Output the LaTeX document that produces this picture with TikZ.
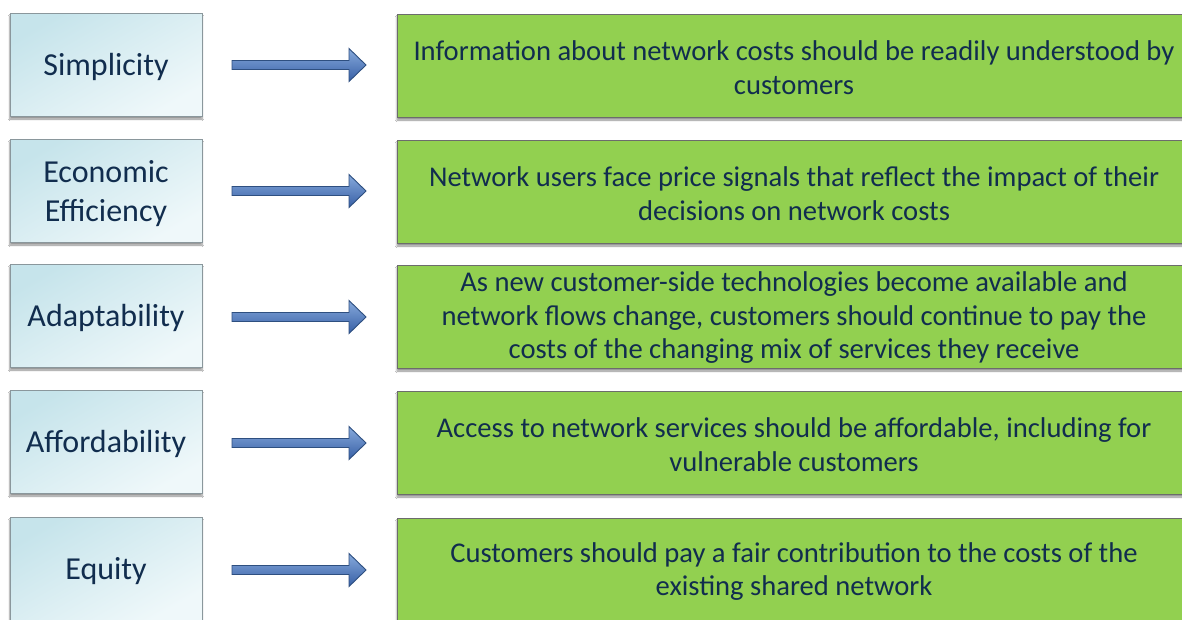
\documentclass[tikz,border=0pt]{standalone}
\usepackage{fontspec}
\setmainfont{Carlito}
\usetikzlibrary{shadows.blur}
\definecolor{txt}{HTML}{112D4E}
\definecolor{greenfill}{HTML}{92D050}
\definecolor{boxedge}{HTML}{8A979C}
\definecolor{arrowedge}{HTML}{2E4F80}
\definecolor{bluedark}{HTML}{C6E4EB}
\definecolor{bluelight}{HTML}{EFF8FA}
\tikzset{
  leftbox/.style={draw=boxedge, line width=1pt, minimum width=192pt, minimum height=103pt,
    top color=bluedark, bottom color=bluelight, shading angle=30,
    blur shadow={shadow xshift=0pt, shadow yshift=-3pt, shadow blur steps=6, shadow opacity=45}},
  lefttext/.style={align=center, text=txt, font=\fontsize{32}{39}\selectfont, inner sep=0pt},
  greenbox/.style={draw=gray!85!black, line width=1pt, fill=greenfill, minimum width=794pt, minimum height=103pt,
    blur shadow={shadow xshift=0pt, shadow yshift=-3pt, shadow blur steps=6, shadow opacity=45}},
  greentext/.style={align=center, text=txt, font=\fontsize{28.6}{33.5}\selectfont, inner sep=0pt},
  arrowshape/.style={draw=arrowedge, line width=0.9pt, top color={rgb,255:red,135;green,170;blue,220}, bottom color={rgb,255:red,55;green,95;blue,165}}
}
\newcommand{\rowarrow}[2]{%
  \draw[arrowshape] (232,#1-4.5) coordinate (#2) -- (349,#1-4.5) -- (349,#1-16.5) -- (366,#1) -- (349,#1+16.5) -- (349,#1+4.5) -- (232,#1+4.5) -- cycle;}
\begin{document}
\begin{tikzpicture}[x=1pt,y=-1pt]
\useasboundingbox (0,0) rectangle (1182,619);
\clip (0,0) rectangle (1182,619);
\fill[white] (0,0) rectangle (1182,619);
% row 1
\node[leftbox] (l1) at (106,64.5) {};
\node[lefttext] (l1t) at ([yshift=-2.5pt]l1.center) {Simplicity};
\node[greenbox] (g1) at (794,65.5) {};
\node[greentext] (g1t) at ([yshift=-2pt]g1.center) {Information about network costs should be readily understood by\\customers};
\rowarrow{65}{a1}
% row 2
\node[leftbox] (l2) at (106,190.5) {};
\node[lefttext] (l2t) at ([yshift=-3pt]l2.center) {Economic\\Efficiency};
\node[greenbox] (g2) at (794,191.5) {};
\node[greentext] (g2t) at ([yshift=-2pt]g2.center) {Network users face price signals that reflect the impact of their\\decisions on network costs};
\rowarrow{191}{a2}
% row 3
\node[leftbox] (l3) at (106,315.5) {};
\node[lefttext] (l3t) at ([yshift=-2.5pt]l3.center) {Adaptability};
\node[greenbox] (g3) at (794,316.5) {};
\node[greentext] (g3t) at ([yshift=-1.5pt]g3.center) {As new customer-side technologies become available and\\network flows change, customers should continue to pay the\\costs of the changing mix of services they receive};
\rowarrow{317}{a3}
% row 4
\node[leftbox] (l4) at (106,441.5) {};
\node[lefttext] (l4t) at ([yshift=-2.5pt]l4.center) {Affordability};
\node[greenbox] (g4) at (794,442.5) {};
\node[greentext] (g4t) at ([yshift=-2pt]g4.center) {Access to network services should be affordable, including for\\vulnerable customers};
\rowarrow{443}{a4}
% row 5
\node[leftbox] (l5) at (106,568.5) {};
\node[lefttext] (l5t) at ([yshift=-2.5pt]l5.center) {Equity};
\node[greenbox] (g5) at (794,569.5) {};
\node[greentext] (g5t) at ([yshift=-2pt]g5.center) {Customers should pay a fair contribution to the costs of the\\existing shared network};
\rowarrow{570}{a5}
\end{tikzpicture}
\end{document}
